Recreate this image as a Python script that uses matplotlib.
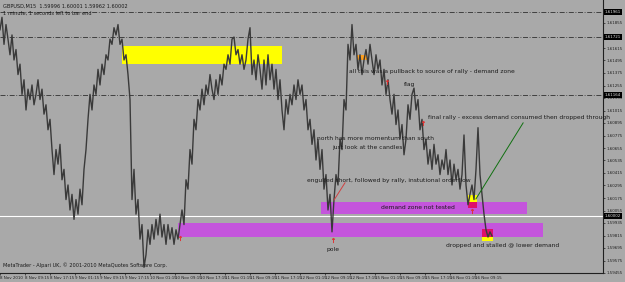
import matplotlib
matplotlib.use("Agg")
import matplotlib.pyplot as plt
from matplotlib.patches import Rectangle

# GBPUSD M15 closes, sampled every 0.64 h from the chart start
closes = [
    1.6179, 1.6191, 1.6165, 1.6184, 1.6170, 1.6155, 1.6174, 1.6150, 1.6160, 1.6136,
    1.6146, 1.6117, 1.6131, 1.6102, 1.6122, 1.6112, 1.6126, 1.6107, 1.6117, 1.6131,
    1.6112, 1.6122, 1.6098, 1.6107, 1.6083, 1.6093, 1.6064, 1.6040, 1.6064, 1.6050,
    1.6069, 1.6035, 1.6045, 1.6016, 1.6030, 1.6006, 1.6021, 1.5997, 1.6016, 1.6002,
    1.6026, 1.6011, 1.6045, 1.6064, 1.6093, 1.6117, 1.6102, 1.6126, 1.6117, 1.6141,
    1.6126, 1.6146, 1.6136, 1.6155, 1.6150, 1.6170, 1.6165, 1.6181, 1.6174, 1.6184,
    1.6165, 1.6170, 1.6150, 1.6155, 1.6136, 1.6112, 1.6016, 1.6045, 1.6002, 1.6016,
    1.5978, 1.5992, 1.5951, 1.5963, 1.5987, 1.5973, 1.5992, 1.5978, 1.5997, 1.5982,
    1.6002, 1.5980, 1.5992, 1.5973, 1.5992, 1.5978, 1.5989, 1.5973, 1.5987, 1.5978,
    1.5992, 1.6006, 1.5992, 1.6035, 1.6026, 1.6064, 1.6050, 1.6093, 1.6083, 1.6112,
    1.6102, 1.6122, 1.6107, 1.6126, 1.6117, 1.6136, 1.6122, 1.6112, 1.6131, 1.6117,
    1.6136, 1.6126, 1.6146, 1.6141, 1.6155, 1.6146, 1.6170, 1.6172, 1.6155, 1.6160,
    1.6146, 1.6155, 1.6141, 1.6150, 1.6170, 1.6181, 1.6136, 1.6150, 1.6131, 1.6155,
    1.6141, 1.6122, 1.6150, 1.6126, 1.6155, 1.6131, 1.6146, 1.6122, 1.6141, 1.6112,
    1.6131, 1.6102, 1.6083, 1.6112, 1.6098, 1.6117, 1.6107, 1.6126, 1.6112, 1.6131,
    1.6117, 1.6126, 1.6102, 1.6112, 1.6083, 1.6093, 1.6069, 1.6083, 1.6054, 1.6074,
    1.6045, 1.6064, 1.6026, 1.6040, 1.6006, 1.6021, 1.5985, 1.6016, 1.6040, 1.6030,
    1.6074, 1.6064, 1.6112, 1.6102, 1.6165, 1.6150, 1.6184, 1.6155, 1.6165, 1.6141,
    1.6155, 1.6136, 1.6150, 1.6160, 1.6146, 1.6165, 1.6150, 1.6136, 1.6155, 1.6141,
    1.6150, 1.6126, 1.6141, 1.6117, 1.6131, 1.6112, 1.6098, 1.6117, 1.6088, 1.6102,
    1.6074, 1.6088, 1.6059, 1.6074, 1.6107, 1.6093, 1.6117, 1.6123, 1.6102, 1.6112,
    1.6083, 1.6093, 1.6064, 1.6074, 1.6050, 1.6064, 1.6045, 1.6069, 1.6050, 1.6059,
    1.6040, 1.6054, 1.6045, 1.6064, 1.6040, 1.6054, 1.6030, 1.6050, 1.6035, 1.6045,
    1.6026, 1.6040, 1.6078, 1.6030, 1.6011, 1.6021, 1.6030, 1.6016, 1.6045, 1.6085,
    1.6040, 1.6021, 1.6002, 1.5987, 1.5980, 1.5985, 1.5981,
]
step_h = 0.64
hours = [i * step_h for i in range(len(closes))]

time_labels = ["8 Nov 2010", "8 Nov 09:15", "8 Nov 17:15", "9 Nov 01:15", "9 Nov 09:15",
               "9 Nov 17:15", "10 Nov 01:15", "10 Nov 09:15", "10 Nov 17:15", "11 Nov 01:15",
               "11 Nov 09:15", "11 Nov 17:15", "12 Nov 01:15", "12 Nov 09:15", "12 Nov 17:15",
               "15 Nov 01:15", "15 Nov 09:15", "15 Nov 17:15", "16 Nov 01:15", "16 Nov 09:15"]
time_ticks = [8 * i for i in range(len(time_labels))]

price_ticks = [round(1.59455 + 0.0012 * k, 5) for k in range(22)]
dash_levels = [1.61961, 1.61721, 1.61164]
bid = 1.60002

# zones: (t0, t1, p_low, p_high, colour)
zones = [
    (39.0, 90.2, 1.61462, 1.61634, "#ffff00"),
    (102.7, 168.6, 1.60022, 1.60137, "#c455dc"),
    (57.0, 173.8, 1.59801, 1.59935, "#c455dc"),
    (149.8, 152.6, 1.60137, 1.60204, "#ffff00"),
    (149.8, 152.6, 1.60080, 1.60137, "#e0106a"),
    (154.2, 157.8, 1.59801, 1.59878, "#e0106a"),
    (154.2, 157.8, 1.59763, 1.59801, "#ffff00"),
    (114.2, 117.4, 1.61500, 1.61548, "#ffa020"),
]
arrows_t = [57.6, 106.6, 151.0, 123.8, 135.4]
arrows_p = [1.59791, 1.59772, 1.60051, 1.61289, 1.60895]

notes = [
    (111.7, 1.6139, "all this was a pullback to source of rally - demand zone"),
    (129.3, 1.6126, "flag"),
    (137.0, 1.6095, "final rally - excess demand consumed then dropped through"),
    (101.4, 1.6075, "north has more momentum than south"),
    (106.2, 1.6066, "just look at the candles"),
    (98.2, 1.6034, "engulfed short, followed by rally, instutional orderflow"),
    (122.0, 1.6008, "demand zone not tested"),
    (142.7, 1.5972, "dropped and stalled @ lower demand"),
    (104.6, 1.5968, "pole"),
]

bg = "#a9a9a9"
fig = plt.figure(figsize=(6.25, 2.82), dpi=100, facecolor=bg)
ax = fig.add_axes([0, 9 / 282, 603 / 625, 273 / 282], facecolor=bg)

for t0, t1, lo, hi, c in zones:
    ax.add_patch(Rectangle((t0, lo), t1 - t0, hi - lo, color=c, lw=0, zorder=1))

for lvl in dash_levels:
    ax.axhline(lvl, color="#303030", lw=0.6, ls=(0, (6, 2, 1, 2)), zorder=2)
ax.axhline(bid, color="white", lw=0.8, zorder=2)

ax.plot(hours, closes, color="#3a3a3a", lw=1.0, zorder=3)

ax.plot([152.3, 167.4], [1.60166, 1.60896], color="#107010", lw=0.7, zorder=4)
ax.plot([106.9, 110.4], [1.60156, 1.60321], color="#d04040", lw=0.7, zorder=4)
ax.scatter(arrows_t, arrows_p, marker="$\u2191$", s=12, color="#e03030", lw=0.3, zorder=5)

for t, p, s in notes:
    ax.text(t, p, s, fontsize=4.3, color="#1a1a1a", va="center", ha="left", zorder=6)

ax.set_xlim(0, 603 * 0.32)
ax.set_ylim(1.59455, 1.59455 + 273 * 0.000096)

ax.yaxis.tick_right()
ax.set_yticks(price_ticks)
ax.set_yticklabels([f"{p:.5f}" for p in price_ticks], fontsize=2.9)
ax.tick_params(axis="y", length=1.5, width=0.5, pad=0.8, colors="#202020")
ax.set_xticks(time_ticks)
ax.set_xticklabels(time_labels, ha="left", fontsize=2.9)
ax.tick_params(axis="x", length=1.5, width=0.5, pad=0.8, colors="#202020")

for lvl in dash_levels + [bid]:
    ax.text(1.003, lvl, f"{lvl:.5f}", transform=ax.get_yaxis_transform(), fontsize=2.9,
            color="#dddddd", va="center", ha="left",
            bbox=dict(boxstyle="square,pad=0.15", fc="black", ec="none"), zorder=7)

for side in ["top", "left"]:
    ax.spines[side].set_visible(False)
for side in ["right", "bottom"]:
    ax.spines[side].set_color("#202020")
    ax.spines[side].set_linewidth(0.8)

fig.text(0.005, 0.985, "GBPUSD,M15  1.59996 1.60001 1.59962 1.60002", fontsize=3.6,
         color="#1a1a1a", va="top")
fig.text(0.005, 0.962, "1 minute, 1 seconds left to bar end", fontsize=3.6,
         color="#1a1a1a", va="top")
ax.text(0.005, 0.02, "MetaTrader - Alpari UK, \u00a9 2001-2010 MetaQuotes Software Corp.",
        transform=ax.transAxes, fontsize=3.6, color="#1a1a1a", va="bottom")

fig.savefig("out.png", dpi=100, facecolor=bg)
